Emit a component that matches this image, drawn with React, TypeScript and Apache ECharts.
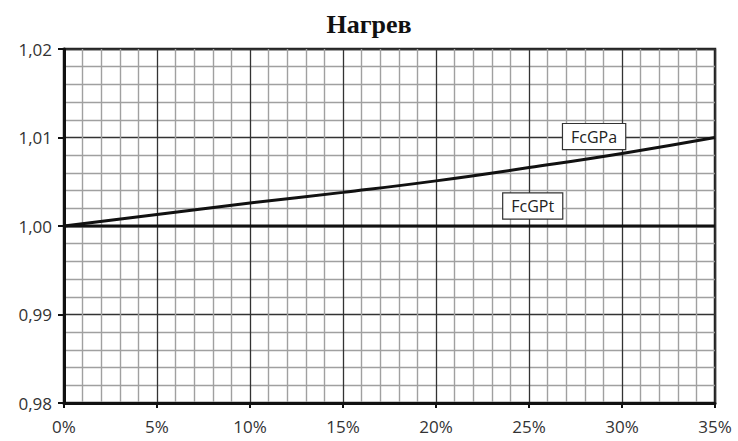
import React, { useEffect, useRef } from "react";
import * as echarts from "echarts";

const xPercent = [0, 5, 10, 15, 20, 25, 30, 35];
const fcGPa = [1.0, 1.0013, 1.0026, 1.0038, 1.0051, 1.0066, 1.0082, 1.01];
const fcGPt = [1.0, 1.0, 1.0, 1.0, 1.0, 1.0, 1.0, 1.0];
const labelA = { name: "FcGPa", x: 28.5, y: 1.0101 };
const labelT = { name: "FcGPt", x: 25.2, y: 1.00226 };

export default function App() {
  const ref = useRef<HTMLDivElement>(null);
  useEffect(() => {
    if (!ref.current) return;
    const chart = echarts.init(ref.current, null, { renderer: "svg" });
    const labelStyle = {
      show: true,
      position: "inside",
      formatter: "{b}",
      color: "#222",
      fontFamily: "Open Sans",
      fontSize: 16,
      lineHeight: 18,
      backgroundColor: "#fff",
      borderColor: "#333",
      borderWidth: 1.2,
      padding: [4, 8, 3, 8],
    };
    chart.setOption({
      animation: false,
      backgroundColor: "#fff",
      title: {
        text: "Нагрев",
        left: "center",
        top: 6,
        textStyle: { fontFamily: "Liberation Serif", fontWeight: "bold", fontSize: 26, color: "#111" },
      },
      grid: { left: 64, right: 23, top: 49, bottom: 38, show: true, borderColor: "#222", borderWidth: 2.5 },
      xAxis: {
        type: "value",
        min: 0,
        max: 35,
        interval: 5,
        axisLine: { show: true, lineStyle: { color: "#111", width: 3 } },
        axisTick: { show: true, length: 5, lineStyle: { color: "#111", width: 2 } },
        axisLabel: { formatter: (v: number) => `${v}%`, color: "#333", fontFamily: "Open Sans", fontSize: 17, margin: 15 },
        splitLine: { show: true, lineStyle: { color: "#333", width: 1.3 } },
        minorTick: { show: false, splitNumber: 5 },
        minorSplitLine: { show: true, lineStyle: { color: "#a0a0a0", width: 1.4 } },
      },
      yAxis: {
        type: "value",
        min: 0.98,
        max: 1.02,
        interval: 0.01,
        axisLine: { show: true, lineStyle: { color: "#111", width: 3 } },
        axisTick: { show: true, length: 6, lineStyle: { color: "#111", width: 2 } },
        axisLabel: { formatter: (v: number) => v.toFixed(2).replace(".", ","), color: "#333", fontFamily: "Open Sans", fontSize: 17, margin: 12 },
        splitLine: { show: true, lineStyle: { color: "#333", width: 1.3 } },
        minorTick: { show: false, splitNumber: 5 },
        minorSplitLine: { show: true, lineStyle: { color: "#a0a0a0", width: 1.4 } },
      },
      series: [
        {
          name: "FcGPa",
          type: "line",
          smooth: true,
          symbol: "none",
          lineStyle: { color: "#111", width: 3 },
          data: xPercent.map((x, i) => [x, fcGPa[i]]),
          markPoint: {
            symbol: "rect",
            symbolSize: 0,
            label: labelStyle,
            data: [{ name: labelA.name, coord: [labelA.x, labelA.y] }],
          },
          z: 5,
        },
        {
          name: "FcGPt",
          type: "line",
          symbol: "none",
          lineStyle: { color: "#111", width: 3 },
          data: xPercent.map((x, i) => [x, fcGPt[i]]),
          markPoint: {
            symbol: "rect",
            symbolSize: 0,
            label: labelStyle,
            data: [{ name: labelT.name, coord: [labelT.x, labelT.y] }],
          },
          z: 5,
        },
      ],
    });
    return () => chart.dispose();
  }, []);
  return <div ref={ref} style={{ width: 738, height: 441, position: "absolute", left: 0, top: 0 }} />;
}
